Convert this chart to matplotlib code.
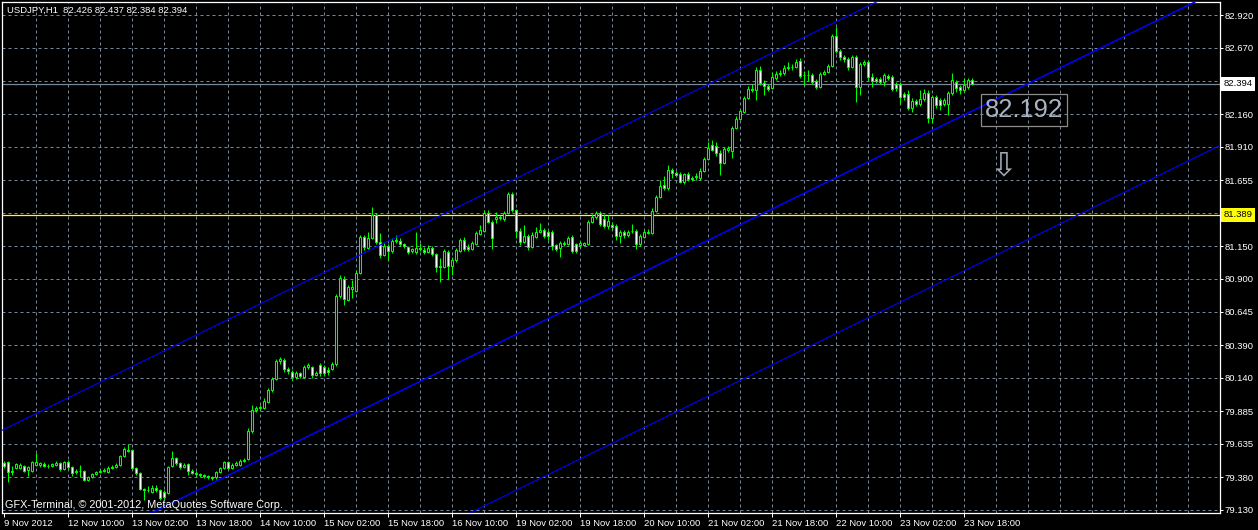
import numpy as np
import matplotlib.pyplot as plt
import matplotlib.transforms as mtransforms

W, H = 1258, 530
FONT = "Liberation Sans"

header = "USDJPY,H1  82.426 82.437 82.384 82.394"
copyright_txt = "GFX-Terminal, \u00a9 2001-2012, MetaQuotes Software Corp."

# hourly USDJPY bars
opens = [
    79.488, 79.496, 79.419, 79.450, 79.450, 79.465, 79.435, 79.427, 79.473, 79.473,
    79.481, 79.465, 79.465, 79.473, 79.488, 79.442, 79.496, 79.458, 79.419, 79.427,
    79.427, 79.358, 79.381, 79.404, 79.419, 79.427, 79.419, 79.450, 79.458, 79.473,
    79.542, 79.588, 79.588, 79.450, 79.412, 79.289, 79.282, 79.266, 79.297, 79.282,
    79.266, 79.259, 79.465, 79.527, 79.488, 79.458, 79.481, 79.427, 79.412, 79.404,
    79.396, 79.389, 79.381, 79.381, 79.419, 79.450, 79.496, 79.450, 79.473, 79.473,
    79.504, 79.519, 79.734, 79.894, 79.910, 79.910, 79.956, 80.048, 80.132, 80.270,
    80.277, 80.208, 80.185, 80.147, 80.178, 80.147, 80.224, 80.224, 80.162, 80.239,
    80.224, 80.201, 80.208, 80.247, 80.768, 80.898, 80.737, 80.821, 80.806, 80.944,
    81.220, 81.136, 81.212, 81.388, 81.182, 81.082, 81.151, 81.113, 81.189, 81.189,
    81.166, 81.143, 81.113, 81.105, 81.136, 81.120, 81.105, 81.136, 81.089, 80.998,
    80.990, 81.105, 80.998, 81.043, 81.113, 81.197, 81.143, 81.128, 81.166, 81.243,
    81.266, 81.403, 81.334, 81.357, 81.365, 81.357, 81.403, 81.549, 81.426, 81.266,
    81.182, 81.227, 81.143, 81.220, 81.258, 81.273, 81.258, 81.258, 81.159, 81.136,
    81.166, 81.166, 81.220, 81.166, 81.159, 81.159, 81.166, 81.334, 81.373, 81.403,
    81.357, 81.304, 81.312, 81.304, 81.227, 81.258, 81.235, 81.266, 81.266, 81.166,
    81.220, 81.250, 81.250, 81.419, 81.526, 81.618, 81.595, 81.733, 81.710, 81.702,
    81.641, 81.702, 81.671, 81.679, 81.671, 81.725, 81.817, 81.924, 81.917, 81.863,
    81.786, 81.886, 81.879, 82.054, 82.123, 82.177, 82.284, 82.353, 82.346, 82.499,
    82.399, 82.376, 82.361, 82.438, 82.468, 82.476, 82.514, 82.522, 82.522, 82.568,
    82.460, 82.460, 82.460, 82.415, 82.369, 82.468, 82.483, 82.529, 82.759, 82.644,
    82.598, 82.583, 82.522, 82.598, 82.369, 82.545, 82.560, 82.445, 82.430, 82.430,
    82.407, 82.453, 82.445, 82.392, 82.392, 82.315, 82.315, 82.208, 82.262, 82.239,
    82.277, 82.323, 82.131, 82.292, 82.269, 82.239, 82.239, 82.323, 82.407, 82.369,
    82.346, 82.369, 82.426,
]
highs = [
    79.504, 79.504, 79.465, 79.488, 79.488, 79.473, 79.465, 79.504, 79.565, 79.496,
    79.496, 79.481, 79.488, 79.504, 79.496, 79.504, 79.511, 79.465, 79.442, 79.473,
    79.435, 79.389, 79.412, 79.427, 79.442, 79.450, 79.465, 79.473, 79.488, 79.550,
    79.611, 79.634, 79.596, 79.458, 79.419, 79.297, 79.312, 79.320, 79.320, 79.289,
    79.282, 79.465, 79.580, 79.534, 79.496, 79.488, 79.488, 79.442, 79.427, 79.412,
    79.404, 79.396, 79.389, 79.427, 79.458, 79.504, 79.504, 79.488, 79.504, 79.519,
    79.527, 79.757, 79.933, 79.925, 79.933, 79.986, 80.063, 80.147, 80.285, 80.300,
    80.293, 80.224, 80.201, 80.193, 80.185, 80.239, 80.254, 80.231, 80.193, 80.254,
    80.239, 80.224, 80.262, 80.783, 80.929, 80.921, 80.852, 80.890, 80.967, 81.235,
    81.235, 81.258, 81.450, 81.403, 81.250, 81.174, 81.166, 81.212, 81.235, 81.212,
    81.174, 81.151, 81.136, 81.258, 81.174, 81.143, 81.159, 81.151, 81.097, 81.059,
    81.128, 81.120, 81.066, 81.136, 81.212, 81.220, 81.166, 81.189, 81.266, 81.312,
    81.426, 81.426, 81.350, 81.411, 81.388, 81.419, 81.564, 81.564, 81.434, 81.289,
    81.312, 81.243, 81.258, 81.296, 81.327, 81.289, 81.273, 81.273, 81.166, 81.189,
    81.189, 81.227, 81.235, 81.174, 81.189, 81.182, 81.350, 81.396, 81.419, 81.419,
    81.396, 81.388, 81.334, 81.319, 81.273, 81.273, 81.273, 81.319, 81.281, 81.243,
    81.273, 81.281, 81.442, 81.541, 81.656, 81.687, 81.771, 81.748, 81.725, 81.717,
    81.710, 81.717, 81.687, 81.710, 81.748, 81.833, 81.947, 81.963, 81.947, 81.886,
    81.909, 81.917, 82.070, 82.146, 82.200, 82.300, 82.376, 82.392, 82.522, 82.529,
    82.422, 82.392, 82.483, 82.491, 82.499, 82.537, 82.560, 82.545, 82.583, 82.591,
    82.491, 82.499, 82.476, 82.430, 82.483, 82.499, 82.545, 82.775, 82.828, 82.660,
    82.614, 82.598, 82.614, 82.614, 82.560, 82.575, 82.575, 82.476, 82.445, 82.445,
    82.476, 82.468, 82.460, 82.407, 82.407, 82.330, 82.346, 82.284, 82.277, 82.346,
    82.353, 82.346, 82.307, 82.307, 82.284, 82.284, 82.338, 82.476, 82.422, 82.384,
    82.437, 82.437, 82.437,
]
lows = [
    79.450, 79.343, 79.396, 79.442, 79.442, 79.419, 79.389, 79.419, 79.465, 79.458,
    79.458, 79.450, 79.458, 79.465, 79.427, 79.435, 79.442, 79.389, 79.404, 79.381,
    79.351, 79.351, 79.374, 79.396, 79.412, 79.419, 79.412, 79.442, 79.450, 79.465,
    79.534, 79.573, 79.442, 79.396, 79.282, 79.205, 79.266, 79.259, 79.266, 79.205,
    79.213, 79.251, 79.458, 79.473, 79.442, 79.450, 79.396, 79.404, 79.389, 79.381,
    79.374, 79.366, 79.358, 79.366, 79.412, 79.442, 79.442, 79.442, 79.465, 79.465,
    79.496, 79.511, 79.718, 79.879, 79.894, 79.902, 79.948, 80.032, 80.124, 80.247,
    80.185, 80.170, 80.124, 80.132, 80.140, 80.140, 80.208, 80.140, 80.155, 80.155,
    80.155, 80.162, 80.201, 80.231, 80.752, 80.699, 80.729, 80.752, 80.798, 80.936,
    81.120, 81.128, 81.205, 81.166, 81.059, 81.074, 81.043, 81.097, 81.174, 81.151,
    81.136, 81.089, 81.097, 81.089, 81.113, 81.089, 81.097, 81.074, 80.952, 80.875,
    80.983, 80.898, 80.929, 81.028, 81.105, 81.113, 81.113, 81.120, 81.159, 81.235,
    81.258, 81.327, 81.128, 81.327, 81.350, 81.342, 81.396, 81.411, 81.212, 81.159,
    81.174, 81.120, 81.136, 81.212, 81.250, 81.212, 81.197, 81.120, 81.113, 81.066,
    81.151, 81.159, 81.097, 81.097, 81.143, 81.151, 81.159, 81.327, 81.357, 81.304,
    81.289, 81.281, 81.281, 81.197, 81.174, 81.212, 81.220, 81.250, 81.128, 81.151,
    81.212, 81.243, 81.243, 81.411, 81.518, 81.579, 81.579, 81.671, 81.687, 81.633,
    81.625, 81.648, 81.648, 81.656, 81.656, 81.717, 81.810, 81.879, 81.840, 81.694,
    81.779, 81.871, 81.825, 82.047, 82.116, 82.170, 82.277, 82.330, 82.269, 82.384,
    82.307, 82.338, 82.353, 82.422, 82.453, 82.460, 82.499, 82.499, 82.514, 82.438,
    82.384, 82.415, 82.392, 82.353, 82.361, 82.460, 82.476, 82.522, 82.629, 82.575,
    82.560, 82.499, 82.514, 82.254, 82.307, 82.529, 82.422, 82.369, 82.399, 82.392,
    82.376, 82.422, 82.338, 82.338, 82.238, 82.269, 82.193, 82.177, 82.223, 82.223,
    82.262, 82.093, 82.093, 82.208, 82.193, 82.223, 82.154, 82.307, 82.330, 82.315,
    82.330, 82.353, 82.384,
]
closes = [
    79.465, 79.419, 79.427, 79.481, 79.473, 79.427, 79.458, 79.496, 79.496, 79.488,
    79.465, 79.465, 79.481, 79.488, 79.442, 79.496, 79.458, 79.412, 79.427, 79.430,
    79.358, 79.381, 79.404, 79.419, 79.427, 79.435, 79.450, 79.458, 79.473, 79.542,
    79.596, 79.580, 79.450, 79.412, 79.289, 79.282, 79.280, 79.297, 79.282, 79.220,
    79.228, 79.458, 79.527, 79.488, 79.458, 79.473, 79.427, 79.412, 79.404, 79.396,
    79.389, 79.381, 79.374, 79.419, 79.450, 79.496, 79.450, 79.473, 79.488, 79.504,
    79.511, 79.734, 79.894, 79.910, 79.917, 79.963, 80.048, 80.132, 80.270, 80.285,
    80.208, 80.193, 80.147, 80.178, 80.155, 80.224, 80.239, 80.162, 80.178, 80.178,
    80.178, 80.185, 80.247, 80.768, 80.906, 80.745, 80.837, 80.837, 80.944, 81.220,
    81.143, 81.212, 81.388, 81.182, 81.082, 81.151, 81.113, 81.189, 81.197, 81.166,
    81.151, 81.105, 81.128, 81.136, 81.128, 81.105, 81.136, 81.089, 80.990, 80.990,
    81.113, 80.998, 81.043, 81.120, 81.197, 81.128, 81.128, 81.174, 81.250, 81.273,
    81.403, 81.334, 81.212, 81.373, 81.373, 81.403, 81.549, 81.426, 81.266, 81.182,
    81.227, 81.143, 81.235, 81.258, 81.273, 81.227, 81.227, 81.151, 81.128, 81.174,
    81.174, 81.212, 81.113, 81.113, 81.174, 81.174, 81.334, 81.373, 81.403, 81.319,
    81.304, 81.342, 81.296, 81.227, 81.258, 81.235, 81.258, 81.264, 81.166, 81.227,
    81.258, 81.258, 81.419, 81.526, 81.610, 81.595, 81.733, 81.710, 81.694, 81.641,
    81.702, 81.664, 81.664, 81.687, 81.725, 81.817, 81.902, 81.886, 81.863, 81.786,
    81.894, 81.902, 82.054, 82.123, 82.184, 82.284, 82.353, 82.346, 82.499, 82.399,
    82.376, 82.353, 82.445, 82.468, 82.476, 82.514, 82.522, 82.520, 82.560, 82.453,
    82.458, 82.462, 82.407, 82.369, 82.468, 82.483, 82.529, 82.759, 82.644, 82.598,
    82.583, 82.522, 82.598, 82.369, 82.545, 82.560, 82.445, 82.415, 82.415, 82.407,
    82.460, 82.438, 82.353, 82.361, 82.292, 82.292, 82.208, 82.262, 82.239, 82.277,
    82.323, 82.131, 82.292, 82.231, 82.231, 82.269, 82.323, 82.422, 82.361, 82.346,
    82.384, 82.422, 82.394,
]

time_labels = ["9 Nov 2012", "12 Nov 10:00", "13 Nov 02:00", "13 Nov 18:00",
               "14 Nov 10:00", "15 Nov 02:00", "15 Nov 18:00", "16 Nov 10:00",
               "19 Nov 02:00", "19 Nov 18:00", "20 Nov 10:00", "21 Nov 02:00",
               "21 Nov 18:00", "22 Nov 10:00", "23 Nov 02:00", "23 Nov 18:00"]
label_step = 16   # bars between time labels
grid_step = 8     # bars between vertical grid lines

price_ticks = [82.920, 82.670, 82.415, 82.160, 81.910, 81.655, 81.400, 81.150,
               80.900, 80.645, 80.390, 80.140, 79.885, 79.635, 79.380, 79.130]
price_labels = ["82.920", "82.670", "", "82.160", "81.910", "81.655", "", "81.150",
                "80.900", "80.645", "80.390", "80.140", "79.885", "79.635", "79.380", "79.130"]

bid_price = 82.394
hline_price = 81.389
note_value = "82.192"

# equidistant channel (two anchor bars, three lines)
chan_bars = [-10, 320]
chan_upper = [79.596, 84.550]
chan_mid = [78.402, 83.355]
chan_lower = [77.207, 82.161]

GRID = "#778899"
LIME = "#00ff00"


def fx(px):
    return px / W


def fy(py):
    return 1 - py / H


fig = plt.figure(figsize=(W / 100, H / 100), dpi=100, facecolor="black")
ax = fig.add_axes([fx(2), fy(513), (1220 - 2) / W, (513 - 2) / H])
ax.set_facecolor("black")

n = len(closes)
x = np.arange(n)
o = np.array(opens)
c = np.array(closes)

ax.set_xlim(-0.5, 304)
ax.set_ylim(79.105, 83.020)

# grid
for b in range(grid_step, 304, grid_step):
    ax.axvline(b, color=GRID, lw=0.72, ls=(0, (3, 3)), zorder=0)
for p in price_ticks:
    ax.axhline(p, color=GRID, lw=0.72, ls=(0, (3, 3)), zorder=0)

# candles
ax.vlines(x, lows, highs, color=LIME, lw=0.75, zorder=2)
bull = c >= o
body_lo = np.minimum(o, c)
body_h = np.abs(c - o)
ax.bar(x, body_h, bottom=body_lo, width=0.6,
       color=np.where(bull, "black", "white"), edgecolor=LIME, linewidth=0.75, zorder=3)

# horizontal lines
ax.axhline(bid_price, color=GRID, lw=0.9, zorder=1)
ax.axhline(hline_price, color="#ffff00", lw=0.9, zorder=1)

# channel
ax.plot(chan_bars, chan_upper, color="#0000ff", lw=0.8, zorder=4)
ax.plot(chan_bars, chan_mid, color="#0000ff", lw=1.1, zorder=4)
ax.plot(chan_bars, chan_lower, color="#0000ff", lw=0.8, zorder=4)

# axes styling
for s in ax.spines.values():
    s.set_color("white")
    s.set_linewidth(0.9)

ax.yaxis.tick_right()
ax.set_yticks(price_ticks)
ax.set_yticklabels(price_labels, fontsize=6.8, color="white", family=FONT)
ax.tick_params(axis="y", direction="out", length=2.2, width=0.72, color="white", pad=1.2)

ax.set_xticks(range(0, label_step * len(time_labels), label_step))
ax.set_xticklabels(time_labels, fontsize=6.8, color="white", family=FONT, ha="left")
ax.tick_params(axis="x", direction="out", length=3, width=0.72, color="white", pad=1.2)

# price labels on the right axis
tr = mtransforms.blended_transform_factory(ax.transAxes, ax.transData)
ax.text(1.0 + 3.5 / 1218, bid_price, "82.394", transform=tr, fontsize=6.8, family=FONT,
        color="black", va="center", ha="left", clip_on=False,
        bbox=dict(boxstyle="square,pad=0.25", facecolor="white", edgecolor="none"))
ax.text(1.0 + 3.5 / 1218, hline_price, "81.389", transform=tr, fontsize=6.8, family=FONT,
        color="black", va="center", ha="left", clip_on=False,
        bbox=dict(boxstyle="square,pad=0.25", facecolor="#ffff00", edgecolor="none"))

# texts
fig.text(fx(7), fy(10), header, fontsize=6.8, color="white", family=FONT, va="center", ha="left")
fig.text(fx(5), fy(505), copyright_txt, fontsize=7.8, color="white", family=FONT,
         va="center", ha="left")
fig.text(fx(1024), fy(110), note_value, fontsize=18.4, color="#aab4c0", family=FONT,
         va="center", ha="center",
         bbox=dict(boxstyle="square,pad=0.15", facecolor="none", edgecolor="#8c8c8c", lw=0.9))
fig.text(fx(1003), fy(166), "\u21e9", fontsize=24, color="#a0a8b4", family="DejaVu Sans",
         va="center", ha="center")

fig.savefig("out.png", dpi=100, facecolor="black")
